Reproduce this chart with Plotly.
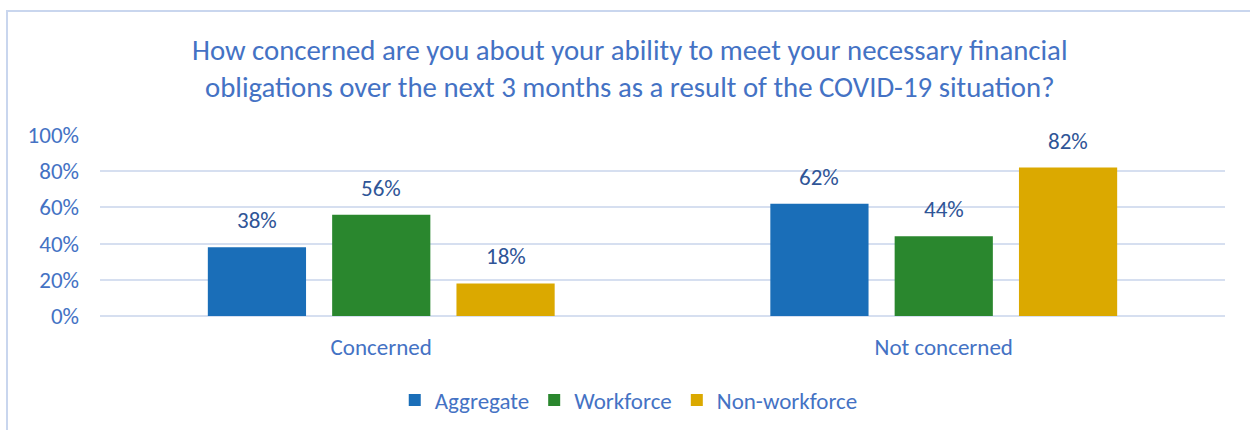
import plotly.graph_objects as go

# Survey responses (share of respondents)
categories = ["Concerned", "Not concerned"]
series_names = ["Aggregate", "Workforce", "Non-workforce"]
aggregate = [38, 62]
workforce = [56, 44]
non_workforce = [18, 82]
y_tick_values = [0, 20, 40, 60, 80, 100]
y_tick_labels = ["0%", "20%", "40%", "60%", "80%", "100%"]

series_values = [aggregate, workforce, non_workforce]
colors = ["#1A6EB8", "#2A872E", "#DBA900"]

FONT = "Carlito, Lato, sans-serif"
TEXT_BLUE = "#4472C4"
LABEL_BLUE = "#2F5597"

W, H = 1250, 430
L, R, T, B = 100, 25, 135, 114

fig = go.Figure()
for name, vals, col in zip(series_names, series_values, colors):
    fig.add_trace(go.Bar(
        name=name, x=categories, y=vals,
        marker=dict(color=col, line=dict(width=0)),
    ))

# Value labels above each bar
bargap, groupgap = 0.337, 0.21
slot = (1 - bargap) / len(series_names)
annotations = []
for i, vals in enumerate(series_values):
    offset = (i - 1) * slot
    for j, v in enumerate(vals):
        annotations.append(dict(
            x=j + offset, y=v, xref="x", yref="y",
            text=f"{v}%", showarrow=False,
            yanchor="bottom", yshift=11,
            font=dict(family=FONT, size=23, color=LABEL_BLUE),
        ))

plot_h = H - T - B
plot_w = W - L - R

annotations.append(dict(
    x=(630 - L) / plot_w, y=1.0, xref="paper", yref="paper",
    xanchor="center", yanchor="top",
    yshift=(T - 31), showarrow=False,
    text="How concerned are you about your ability to meet your necessary financial<br>"
         "obligations over the next 3 months as a result of the COVID-19 situation?",
    font=dict(family=FONT, size=28.8, color=TEXT_BLUE),
    align="center",
))

# Chart frame (top and left edges visible)
frame = dict(
    type="rect", xref="paper", yref="paper",
    x0=(7 - L) / plot_w, x1=1.2,
    y0=-2, y1=(H - B - 11) / plot_h,
    line=dict(color="#C9D6EE", width=2), fillcolor="rgba(0,0,0,0)", layer="below",
)

fig.update_layout(
    width=W, height=H,
    margin=dict(l=L, r=R, t=T, b=B, autoexpand=False),
    paper_bgcolor="white", plot_bgcolor="white",
    barmode="group", bargap=bargap, bargroupgap=groupgap,
    font=dict(family=FONT, size=23, color=TEXT_BLUE),
    showlegend=True,
    legend=dict(
        orientation="h", x=0.47, xanchor="center",
        y=(H - B - 400) / plot_h, yanchor="middle",
        font=dict(family=FONT, size=23, color=TEXT_BLUE),
        itemclick=False, traceorder="normal",
    ),
    xaxis=dict(
        showgrid=False, zeroline=False, showline=False, ticks="",
        ticklabelstandoff=15,
        tickfont=dict(family=FONT, size=23, color=TEXT_BLUE),
    ),
    yaxis=dict(
        range=[0, 100], tickvals=y_tick_values, ticktext=y_tick_labels,
        showgrid=True, gridcolor="#D6DFF0", gridwidth=2,
        zeroline=True, zerolinecolor="#D6DFF0", zerolinewidth=2,
        showline=False, ticks="", ticklabelstandoff=20,
        tickfont=dict(family=FONT, size=23, color=TEXT_BLUE),
    ),
    annotations=annotations,
    shapes=[frame],
)

fig.write_html("out.html")
